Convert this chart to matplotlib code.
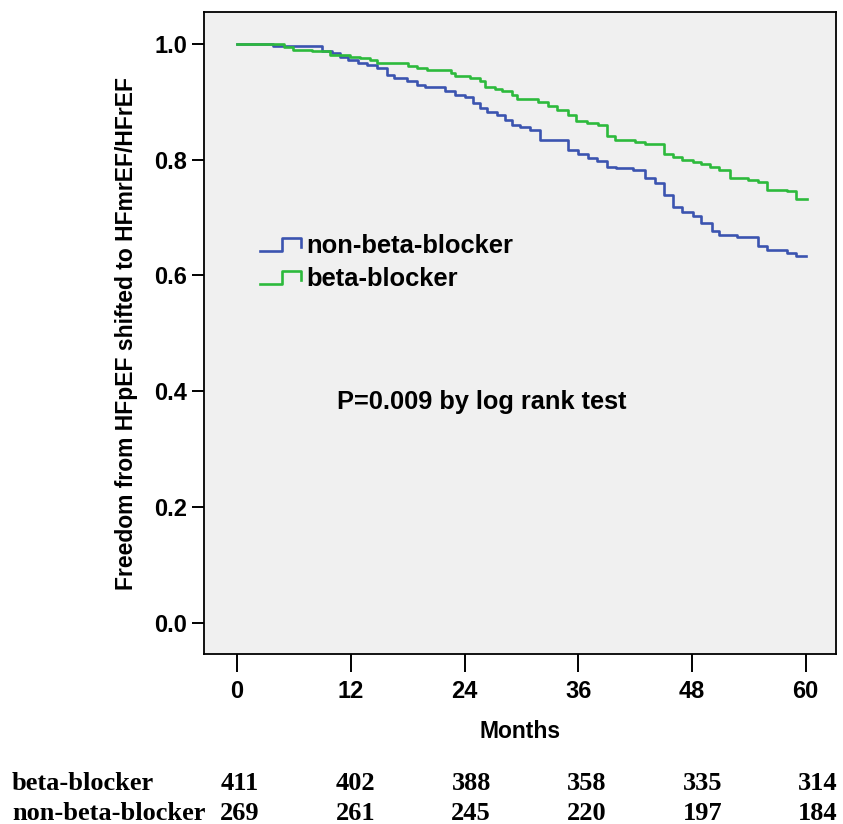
import numpy as np
import matplotlib
matplotlib.use('Agg')
import matplotlib.pyplot as plt
from matplotlib.lines import Line2D
from matplotlib.legend_handler import HandlerBase

# Kaplan-Meier steps (months, survival)
bb_months = [0, 4.9, 5.9, 7.9, 9.8, 11.9, 13.0, 14.0, 14.8, 18.0, 19.0, 20.0,
             22.6, 23.0, 24.6, 25.6, 26.2, 27.2, 28.0, 29.0, 29.5, 31.7, 32.8,
             33.8, 34.9, 35.8, 36.9, 38.1, 39.0, 39.9, 42.0, 43.0, 45.0, 46.0,
             46.9, 48.1, 49.0, 49.9, 50.9, 52.0, 53.9, 55.0, 55.9, 58.0, 59.0, 60.1]
bb_surv = [1.0, 0.995, 0.990, 0.987, 0.981, 0.978, 0.975, 0.972, 0.967, 0.962,
           0.958, 0.955, 0.949, 0.945, 0.941, 0.935, 0.926, 0.922, 0.919, 0.912,
           0.905, 0.899, 0.892, 0.885, 0.877, 0.866, 0.863, 0.860, 0.840, 0.834,
           0.831, 0.827, 0.810, 0.805, 0.800, 0.796, 0.793, 0.788, 0.782, 0.768,
           0.765, 0.762, 0.748, 0.746, 0.732, 0.732]

nbb_months = [0, 3.8, 9.0, 10.0, 10.9, 11.7, 12.8, 13.7, 14.8, 15.8, 16.6, 17.9,
              19.0, 19.8, 21.9, 23.0, 24.0, 24.9, 25.6, 26.4, 27.4, 28.3, 29.0,
              29.8, 30.9, 32.0, 34.9, 36.0, 37.0, 38.0, 39.0, 40.0, 41.8, 43.0,
              44.1, 45.0, 46.0, 46.9, 48.1, 49.0, 50.1, 50.9, 52.8, 55.0, 55.9,
              58.0, 59.0, 60.0]
nbb_surv = [1.0, 0.996, 0.987, 0.984, 0.978, 0.972, 0.967, 0.964, 0.958, 0.946,
            0.941, 0.935, 0.929, 0.925, 0.918, 0.912, 0.909, 0.898, 0.889, 0.883,
            0.877, 0.869, 0.860, 0.857, 0.851, 0.834, 0.817, 0.810, 0.803, 0.797,
            0.788, 0.785, 0.782, 0.768, 0.759, 0.739, 0.719, 0.710, 0.702, 0.690,
            0.676, 0.670, 0.667, 0.650, 0.644, 0.639, 0.633, 0.633]

# numbers at risk
risk_labels = ['beta-blocker', 'non-beta-blocker']
risk_bb = [411, 402, 388, 358, 335, 314]
risk_nbb = [269, 261, 245, 220, 197, 184]

x_ticks = [0, 12, 24, 36, 48, 60]
y_ticks = [0.0, 0.2, 0.4, 0.6, 0.8, 1.0]

BLUE = '#3B54B0'
GREEN = '#2DBA3C'
SANS = ['Liberation Sans', 'DejaVu Sans']
SERIF = ['Liberation Serif', 'DejaVu Serif']


class StepHandler(HandlerBase):
    """SPSS style legend key: a little step."""
    def create_artists(self, legend, orig_handle, xdescent, ydescent,
                       width, height, fontsize, trans):
        x0, y0 = -xdescent, -ydescent
        lo, hi = y0 + height * 0.05, y0 + height * 0.85
        xs = [x0, x0 + width * 0.55, x0 + width * 0.55, x0 + width, x0 + width]
        ys = [lo, lo, hi, hi, y0 + height * 0.3]
        line = Line2D(xs, ys, color=orig_handle.get_color(),
                      linewidth=orig_handle.get_linewidth(), transform=trans)
        return [line]


fig = plt.figure(figsize=(8.43, 8.24), dpi=100)
ax = fig.add_axes([0.242, 0.2063, 0.7497, 0.7791])
ax.set_facecolor('#F0F0F0')

h_nbb, = ax.step(nbb_months, nbb_surv, where='post', color=BLUE, linewidth=1.9)
h_bb, = ax.step(bb_months, bb_surv, where='post', color=GREEN, linewidth=1.9)

ax.set_xlim(-3.5, 63.2)
ax.set_ylim(-0.054, 1.055)
ax.set_xticks(x_ticks)
ax.set_yticks(y_ticks)
ax.set_yticklabels([f'{v:.1f}' for v in y_ticks])
ax.tick_params(axis='x', length=13, width=1.4, direction='out', pad=6)
ax.tick_params(axis='y', length=9, width=1.4, direction='out', pad=3)
for lab in ax.get_xticklabels() + ax.get_yticklabels():
    lab.set_family(SANS)
    lab.set_fontsize(17)
    lab.set_fontweight('bold')
for sp in ax.spines.values():
    sp.set_linewidth(1.3)

ax.set_xlabel('Months', family=SANS, fontsize=16.5, fontweight='bold', labelpad=12)
ax.set_ylabel('Freedom from HFpEF shifted to HFmrEF/HFrEF', family=SANS,
              fontsize=16.5, fontweight='bold', labelpad=12)

ax.legend([h_nbb, h_bb], ['non-beta-blocker', 'beta-blocker'],
          handler_map={Line2D: StepHandler()},
          loc='upper left', bbox_to_anchor=(0.052, 0.69), frameon=False,
          handlelength=1.6, handletextpad=0.2, labelspacing=0.35,
          handleheight=0.6,
          prop={'family': SANS, 'size': 18.4, 'weight': 'bold'})

ax.text(0.44, 0.3925, 'P=0.009 by log rank test', transform=ax.transAxes,
        ha='center', va='center', family=SANS, fontsize=18.3, fontweight='bold')

# numbers at risk table under the plot
col_x = np.linspace(240, 818, len(x_ticks)) / 843
row_y = [1 - 783 / 824, 1 - 814 / 824]
for label, counts, yy in zip(risk_labels, [risk_bb, risk_nbb], row_y):
    fig.text(12 / 843, yy, label, ha='left', va='center', family=SERIF,
             fontsize=19, fontweight='bold')
    for xx, n in zip(col_x, counts):
        fig.text(xx, yy, str(n), ha='center', va='center', family=SERIF,
                 fontsize=19, fontweight='bold')

fig.savefig('out.png', dpi=100, facecolor='white')
